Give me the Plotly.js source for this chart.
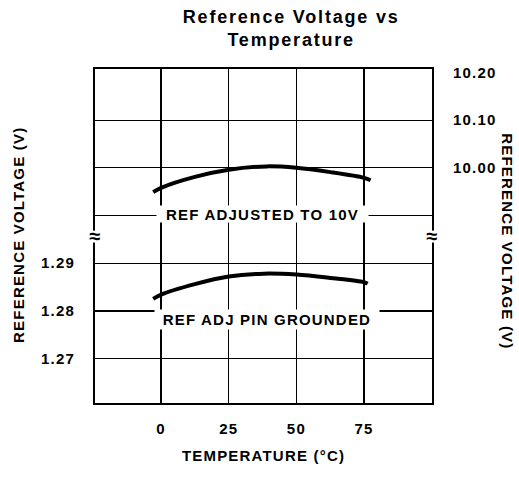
<!DOCTYPE html>
<html>
<head>
<meta charset="utf-8">
<script src="https://cdn.plot.ly/plotly-3.0.1.min.js"></script>
<style>
  html, body { margin: 0; padding: 0; background: #fff; }
  #chart { width: 519px; height: 480px; }
  .main-svg text { letter-spacing: 1.2px; }
  .main-svg text.gtitle { letter-spacing: 1.8px; }
</style>
</head>
<body>
<div id="chart"></div>
<script>
// Temperature (°C) and reference voltage readings
const tempAdjusted = [-2.9, 0, 12.5, 25, 39, 50, 62.5, 75, 77.4];
const voltAdjusted = [9.949, 9.958, 9.981, 9.996, 10.003, 10.000, 9.991, 9.979, 9.974];

const tempGrounded = [-2.9, 0, 12.5, 25, 38, 50, 62.5, 75, 76.3];
const voltGrounded = [1.2825, 1.2834, 1.2856, 1.2872, 1.2878, 1.2876, 1.2869, 1.2860, 1.2857];

const xTickVals = [0, 25, 50, 75];
const xTickText = ["0", "25", "50", "75"];
const leftTickVals = [1.27, 1.28, 1.29, 1.30, 1.31, 1.32];
const leftTickText = ["1.27", "1.28", "1.29", "", "", ""];
const rightTickVals = [10.00, 10.10, 10.20];
const rightTickText = ["10.00", "10.10", "10.20"];

const seriesNames = ["REF ADJUSTED TO 10V", "REF ADJ PIN GROUNDED"];

const sans = "Liberation Sans, Arial, sans-serif";
const labelFont = { family: sans, size: 15, color: "#000", weight: "bold" };
const tickFont = { family: sans, size: 15, color: "#000", weight: "bold" };
const breakFont = { family: sans, size: 20, color: "#000", weight: "bold" };

const traces = [
  {
    x: tempAdjusted, y: voltAdjusted, yaxis: "y2", mode: "lines",
    line: { color: "#000", width: 4, shape: "spline", smoothing: 1 },
    name: seriesNames[0], hoverinfo: "skip"
  },
  {
    x: tempGrounded, y: voltGrounded, yaxis: "y", mode: "lines",
    line: { color: "#000", width: 4, shape: "spline", smoothing: 1 },
    name: seriesNames[1], hoverinfo: "skip"
  }
];

const layout = {
  width: 519, height: 480,
  margin: { l: 95, r: 87, t: 69, b: 77, pad: 0 },
  paper_bgcolor: "#fff", plot_bgcolor: "#fff",
  showlegend: false,
  title: {
    text: "<b>Reference Voltage vs<br>Temperature</b>",
    font: { family: sans, size: 18, color: "#000" },
    xref: "container", yref: "container",
    x: 0.561, xanchor: "center", y: 0.953, yanchor: "middle"
  },
  xaxis: {
    range: [-24.4, 100.1],
    tickvals: xTickVals, ticktext: xTickText,
    showgrid: true, gridcolor: "#000", gridwidth: 1.3,
    zeroline: false, showline: true, mirror: true, linecolor: "#000", linewidth: 2,
    ticks: "", ticklabelstandoff: 11,
    tickfont: tickFont,
    title: { text: "TEMPERATURE (°C)", standoff: 14, font: labelFont },
    fixedrange: true
  },
  yaxis: {
    range: [1.26067, 1.33073],
    tickvals: leftTickVals, ticktext: leftTickText,
    showgrid: true, gridcolor: "#000", gridwidth: 1.3,
    zeroline: false, showline: true, mirror: true, linecolor: "#000", linewidth: 2,
    ticks: "", ticklabelstandoff: 15,
    tickfont: tickFont,
    fixedrange: true
  },
  yaxis2: {
    overlaying: "y", side: "right",
    range: [9.5067, 10.2073],
    tickvals: rightTickVals, ticktext: rightTickText,
    showgrid: false, zeroline: false, showline: false,
    ticks: "", ticklabelstandoff: 20,
    tickfont: tickFont,
    fixedrange: true
  },
  shapes: [
    { type: "rect", xref: "paper", yref: "y", x0: -0.012, x1: 0.012, y0: 1.29432, y1: 1.29683,
      fillcolor: "#fff", line: { width: 0 }, layer: "above" },
    { type: "rect", xref: "paper", yref: "y", x0: 0.988, x1: 1.012, y0: 1.29432, y1: 1.29683,
      fillcolor: "#fff", line: { width: 0 }, layer: "above" }
  ],
  annotations: [
    {
      text: seriesNames[0], xref: "x", yref: "y", x: 37.5, y: 1.30, yshift: 2,
      showarrow: false, bgcolor: "#fff", borderpad: 0, width: 211, height: 16,
      font: labelFont
    },
    {
      text: seriesNames[1], xref: "x", yref: "y", x: 39.3, y: 1.28, yshift: -9,
      showarrow: false, bgcolor: "#fff", borderpad: 0, width: 224, height: 19,
      font: labelFont
    },
    {
      text: "REFERENCE VOLTAGE (V)", xref: "paper", yref: "paper",
      x: -0.2278, y: 0.5027, xanchor: "center", yanchor: "middle",
      textangle: -90, showarrow: false, font: labelFont
    },
    {
      text: "REFERENCE VOLTAGE (V)", xref: "paper", yref: "paper",
      x: 1.2251, y: 0.4832, xanchor: "center", yanchor: "middle",
      textangle: 90, showarrow: false, font: labelFont
    },
    { text: "≈", xref: "paper", yref: "y", x: 0, y: 1.29563, xanchor: "center", yanchor: "middle",
      showarrow: false, font: breakFont },
    { text: "≈", xref: "paper", yref: "y", x: 1, y: 1.29563, xanchor: "center", yanchor: "middle",
      showarrow: false, font: breakFont }
  ]
};

Plotly.newPlot("chart", traces, layout, { displayModeBar: false, staticPlot: true });
</script>
</body>
</html>
